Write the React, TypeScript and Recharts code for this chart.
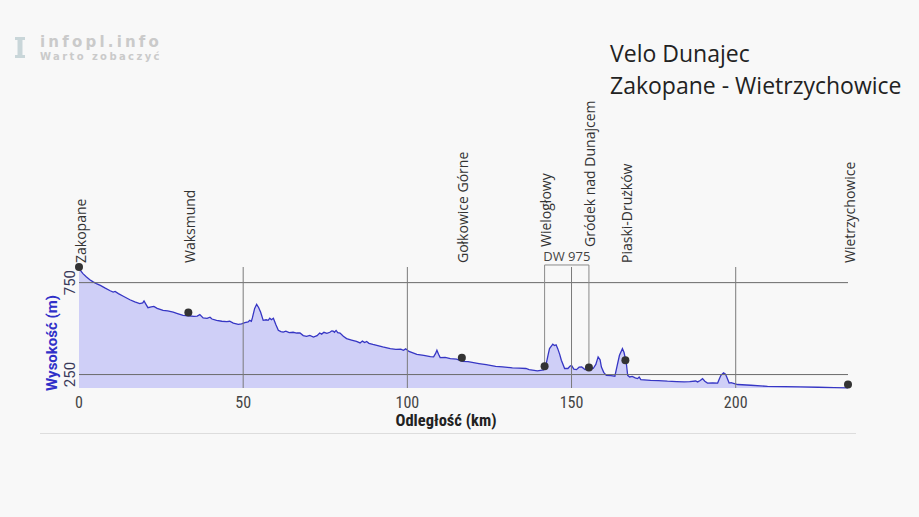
import React from 'react';
import { ComposedChart, Area, Scatter, XAxis, YAxis, ReferenceLine } from 'recharts';

const distanceKm = [
  0, 0.5, 1.2, 2.2, 3.3, 4.3, 5.3, 6.5, 8, 9.5, 10.4, 11, 12, 13.5, 15.5, 17, 18.5, 19.4, 19.8, 20.4,
  21, 22, 22.8, 23.8, 25.6, 27, 28.7, 30, 31.7, 33.3, 35, 36, 36.8, 37.8, 39, 39.9, 40.5, 41.9, 43.5, 45,
  45.9, 47, 48.5, 49.5, 50.5, 51.5, 52, 52.5, 52.8, 53.5, 54.1, 54.7, 55.3, 56.1, 57, 57.6, 58.1, 58.6, 59.2, 60,
  60.7, 61.5, 62.2, 63, 64, 65.2, 66.3, 67.3, 68.3, 69.3, 70.3, 71.4, 72.5, 73.3, 73.9, 74.6, 75.5, 76.4, 77, 77.4,
  77.8, 78.3, 78.8, 79.5, 80.5, 81.5, 83, 84.5, 85.6, 86.3, 87, 87.6, 88.3, 89.5, 90.7, 92.5, 94.8, 96.5, 98, 98.8,
  99.5, 100.5, 102.9, 105, 107, 108, 108.6, 109, 109.5, 110, 111.5, 113.1, 115, 116.8, 118.5, 121.8, 124, 126.9, 129, 132,
  134, 136.1, 137.1, 139.6, 141.5, 142.3, 142.9, 143.3, 144.3, 144.8, 145.3, 145.8, 146.4, 146.9, 147.9, 148.9, 149.5, 150, 150.7, 151.5,
  152.3, 153.1, 154.1, 155.3, 156.6, 157.4, 158.1, 158.7, 159.1, 159.8, 160.6, 162, 163.2, 163.8, 164.6, 165.5, 166, 166.7, 167.1, 167.7,
  168.5, 169.4, 170.1, 170.6, 171.1, 174.1, 176.5, 179.2, 182, 184.3, 186, 187.8, 188.4, 189.2, 189.9, 190.6, 191.4, 193, 194.5, 195.1,
  195.5, 196.3, 196.9, 197.3, 198, 198.6, 199.6, 200.6, 204.6, 209.7, 215, 219.8, 225, 230, 234.2,
];

const elevationM = [
  835, 815, 799, 782, 766, 754, 745, 735, 720, 706, 699, 702, 690, 676, 657, 645, 636, 640, 650, 632,
  614, 618, 621, 610, 599, 596, 590, 582, 572, 570, 566, 568, 576, 558, 556, 562, 552, 545, 540, 538,
  540, 530, 523, 526, 532, 536, 545, 540, 558, 610, 632, 615, 590, 545, 548, 545, 556, 548, 556, 520,
  491, 484, 481, 486, 478, 480, 476, 476, 462, 458, 463, 454, 462, 476, 470, 480, 474, 480, 488, 487,
  480, 490, 478, 476, 458, 446, 438, 430, 422, 432, 424, 430, 420, 414, 409, 400, 391, 387, 388, 382,
  390, 376, 360, 354, 348, 346, 365, 382, 360, 342, 344, 337, 334, 322, 320, 310, 304, 295, 292, 286,
  285, 283, 277, 270, 275, 310, 360, 391, 415, 408, 412, 391, 360, 328, 283, 283, 295, 300, 280, 277,
  290, 291, 277, 280, 283, 305, 346, 330, 291, 262, 246, 244, 241, 290, 355, 391, 370, 310, 246, 237,
  240, 232, 228, 237, 223, 219, 217, 214, 212, 210, 212, 215, 210, 218, 228, 214, 204, 205, 204, 230,
  246, 259, 252, 236, 204, 206, 201, 196, 192, 186, 185, 183, 181, 179, 178,
];

const placeNames = [
  'Zakopane', 'Waksmund', 'Gołkowice Górne', 'Wielogłowy', 'Gródek nad Dunajcem', 'Piaski-Drużków', 'Wietrzychowice',
];
const placeKm = [0, 33.3, 116.6, 141.8, 155.3, 166.4, 234.2];
const placeElev = [835, 587, 342, 295, 288, 328, 196];
const placeOnRoad = [false, false, false, true, true, false, false];

const roadLabel = 'DW 975';
const roadFromKm = 141.8;
const roadToKm = 155.3;
const roadFromElev = 295;
const roadToElev = 288;
const bracketTopElev = 846;

const xTicks = [0, 50, 100, 150, 200];
const yTicks = [250, 750];
const gridX = [50, 100, 150, 200];
const gridY = [250, 750];

const profile = distanceKm.map((km, i) => ({ km, elev: elevationM[i] }));
const places = placeNames.map((name, i) => ({ name, km: placeKm[i], elev: placeElev[i], road: placeOnRoad[i] }));

const LABEL_FONT = '"Open Sans", sans-serif';
const AXIS_FONT = '"Liberation Sans Narrow", "Roboto Condensed", Roboto, sans-serif';

const PlaceShape = (props: any) => {
  const { cx, cy, payload } = props;
  const bottom = payload.road ? 247 : 263;
  const lx = cx + 1;
  return (
    <g>
      <circle cx={cx} cy={cy} r={4} fill="#333" />
      <text
        x={lx}
        y={bottom}
        transform={`rotate(-90, ${lx}, ${bottom})`}
        textAnchor="start"
        dominantBaseline="central"
        fontFamily={LABEL_FONT}
        fontSize={14}
        fill="#333"
      >
        {payload.name}
      </text>
    </g>
  );
};

const YTick = (props: any) => {
  const { y, payload } = props;
  const x = 70;
  return (
    <text
      x={x}
      y={y}
      transform={`rotate(-90, ${x}, ${y})`}
      textAnchor="middle"
      dominantBaseline="central"
      fontFamily="Roboto, sans-serif"
      fontSize={15}
      fill="#3a3a5a"
    >
      {payload.value}
    </text>
  );
};

const XTick = (props: any) => {
  const { x, payload } = props;
  return (
    <text x={x} y={408} textAnchor="middle" fontFamily={AXIS_FONT} fontSize={16} fill="#444">
      {payload.value}
    </text>
  );
};

const XLabel = () => (
  <text
    x={446}
    y={426}
    textAnchor="middle"
    fontFamily={AXIS_FONT}
    fontWeight="bold"
    fontSize={16.5}
    fill="#222"
  >
    Odległość (km)
  </text>
);

const YLabel = () => (
  <text
    x={52}
    y={343}
    transform="rotate(-90, 52, 343)"
    textAnchor="middle"
    dominantBaseline="central"
    fontFamily="Roboto, sans-serif"
    fontWeight="bold"
    fontSize={15}
    fill="#3030c8"
  >
    Wysokość (m)
  </text>
);

export default function App() {
  return (
    <div style={{ position: 'absolute', left: 0, top: 0, width: 919, height: 517, background: '#f8f8f8', overflow: 'hidden' }}>
      <svg width={200} height={70} style={{ position: 'absolute', left: 0, top: 0 }}>
        <rect x={15} y={37} width={10} height={3} fill="#c9d6d9" />
        <rect x={17.5} y={40} width={5} height={15} fill="#c9d6d9" />
        <rect x={15} y={55} width={10} height={3} fill="#c9d6d9" />
        <text x={40} y={47} fontFamily="'DejaVu Sans', sans-serif" fontWeight="bold" fontSize={15} letterSpacing={3.2} fill="#cacaca">
          infopl.info
        </text>
        <text x={40} y={59.5} fontFamily="'DejaVu Sans', sans-serif" fontWeight="bold" fontSize={10} letterSpacing={2.4} fill="#cacaca">
          Warto zobaczyć
        </text>
      </svg>
      <div
        style={{
          position: 'absolute',
          left: 610,
          top: 37,
          fontFamily: LABEL_FONT,
          fontSize: 23,
          lineHeight: '32px',
          color: '#222',
        }}
      >
        <div>Velo Dunajec</div>
        <div>Zakopane - Wietrzychowice</div>
      </div>
      <div style={{ position: 'absolute', left: 40, top: 433, width: 816, height: 1, background: '#dddddd' }} />
      <div style={{ position: 'absolute', left: 0, top: 0 }}>
        <ComposedChart
          width={919}
          height={517}
          data={profile}
          margin={{ top: 267, right: 71, bottom: 99, left: 20 }}
        >
          <XAxis
            dataKey="km"
            type="number"
            domain={[0, 234.2]}
            ticks={xTicks}
            axisLine={false}
            tickLine={false}
            height={30}
            tick={<XTick />}
            label={<XLabel />}
          />
          <YAxis
            type="number"
            domain={[177, 835]}
            ticks={yTicks}
            axisLine={false}
            tickLine={false}
            width={59}
            tick={<YTick />}
            label={<YLabel />}
          />
          <Area
            type="linear"
            dataKey="elev"
            stroke="#3636c4"
            strokeWidth={1.3}
            fill="#cfcff7"
            fillOpacity={1}
            baseValue="dataMin"
            isAnimationActive={false}
            dot={false}
            activeDot={false}
          />
          {gridY.map((v) => (
            <ReferenceLine key={'gy' + v} y={v} stroke="#6a6a6a" strokeWidth={1} />
          ))}
          {gridX.map((v) => (
            <ReferenceLine key={'gx' + v} x={v} stroke="#7a7a7a" strokeWidth={1} />
          ))}
          <ReferenceLine
            segment={[{ x: roadFromKm, y: roadFromElev }, { x: roadFromKm, y: bracketTopElev }]}
            stroke="#8a8a8a"
            ifOverflow="visible"
          />
          <ReferenceLine
            segment={[{ x: roadToKm, y: roadToElev }, { x: roadToKm, y: bracketTopElev }]}
            stroke="#8a8a8a"
            ifOverflow="visible"
          />
          <ReferenceLine
            segment={[{ x: roadFromKm, y: bracketTopElev }, { x: roadToKm, y: bracketTopElev }]}
            stroke="#8a8a8a"
            ifOverflow="visible"
            label={{
              value: roadLabel,
              position: 'top',
              fontFamily: LABEL_FONT,
              fontSize: 13,
              fill: '#444',
              offset: 4,
            }}
          />
          <Scatter data={places} dataKey="elev" shape={<PlaceShape />} isAnimationActive={false} />
        </ComposedChart>
      </div>
    </div>
  );
}
